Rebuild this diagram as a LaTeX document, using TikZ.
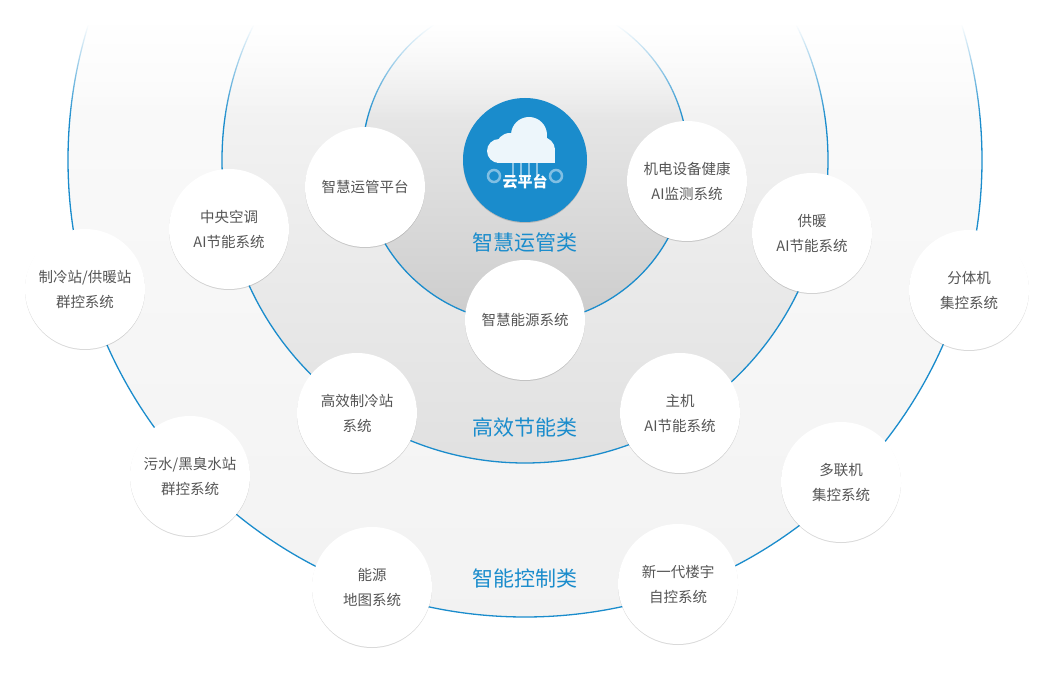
\documentclass[tikz,border=0pt]{standalone}
\usepackage{fontspec}
\newfontfamily\cjk{Noto Sans CJK SC}
\usetikzlibrary{shadows,fadings}
\definecolor{bl}{HTML}{1A8CCC}
\definecolor{tx}{HTML}{555555}
\begin{document}
\begin{tikzpicture}[x=1pt,y=-1pt,
  item/.style={circle,minimum size=120pt,inner sep=0pt,fill=white,align=center,text=tx,
    font=\cjk\fontsize{14.5pt}{25pt}\selectfont,
    drop shadow={shadow xshift=0pt,shadow yshift=-1pt,opacity=0.15,fill=black}},
  cat/.style={text=bl,font=\cjk\fontsize{21pt}{24pt}\selectfont}]
\useasboundingbox (0,0) rectangle (1058,676);
\path[top color=white,bottom color=white!95!black] (525,160) circle (457);
\draw[bl,line width=1.3pt] (525,160) circle (457);
\path[top color=white,bottom color=white!88!black] (525,160) circle (303);
\draw[bl,line width=1.3pt] (525,160) circle (303);
\path[top color=white!96!black,bottom color=white!80!black] (525,160) circle (163);
\draw[bl,line width=1.3pt] (525,160) circle (163);
\fill[white] (0,0) rectangle (1058,25);
\fill[white,path fading=south] (0,24) rectangle (1058,120);
\node[cat] (c1) at (525,243) {智慧运管类};
\node[cat] (c2) at (525,428) {高效节能类};
\node[cat] (c3) at (525,578) {智能控制类};
\node[circle,fill=bl,minimum size=124pt,inner sep=0pt,
  drop shadow={shadow xshift=0pt,shadow yshift=-1pt,opacity=0.15,fill=black}] (cloud) at (525,160) {};
\begin{scope}
\fill[white!92!bl] (510,147) circle (14) (529,135) circle (18) (542,150) circle (13);
\fill[white!92!bl] (497,148) rectangle (555,163);
\fill[white!92!bl] (499,151) circle (12);
\draw[white,opacity=0.5,line width=2pt] (513,163)--(513,178) (521,163)--(521,178) (529,163)--(529,178) (537,163)--(537,178);
\draw[white,opacity=0.45,line width=2.5pt] (494,176) circle (6) (556,176) circle (6);
\end{scope}
\node[text=white,font=\cjk\bfseries\fontsize{15pt}{16pt}\selectfont] (cl) at (525,182) {云平台};
\node[item] (a1) at (365,187) {智慧运管平台};
\node[item] (a2) at (687,181) {机电设备健康\\AI监测系统};
\node[item] (a3) at (229,229) {中央空调\\AI节能系统};
\node[item] (a4) at (812,233) {供暖\\AI节能系统};
\node[item] (a5) at (85,289) {制冷站/供暖站\\群控系统};
\node[item] (a6) at (969,290) {分体机\\集控系统};
\node[item] (a7) at (525,320) {智慧能源系统};
\node[item] (a8) at (357,413) {高效制冷站\\系统};
\node[item] (a9) at (680,413) {主机\\AI节能系统};
\node[item] (a10) at (190,476) {污水/黑臭水站\\群控系统};
\node[item] (a11) at (841,482) {多联机\\集控系统};
\node[item] (a12) at (372,587) {能源\\地图系统};
\node[item] (a13) at (678,584) {新一代楼宇\\自控系统};
\end{tikzpicture}
\end{document}
